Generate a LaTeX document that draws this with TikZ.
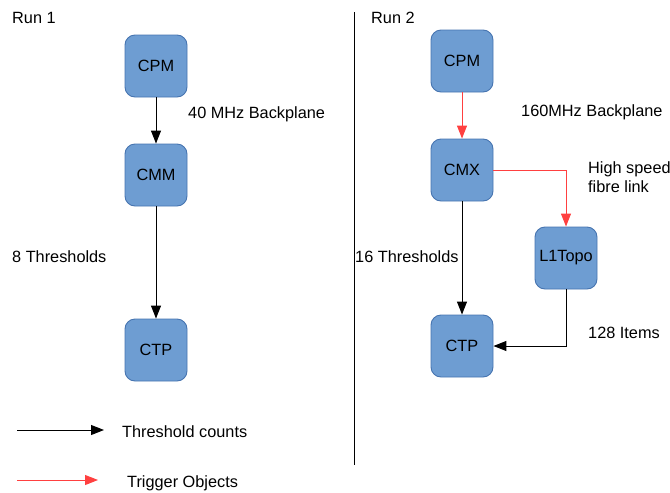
\documentclass[tikz,border=0pt]{standalone}
\usepackage{fontspec}
\setmainfont{Liberation Sans}
\usetikzlibrary{arrows.meta}
\definecolor{boxfill}{RGB}{110,157,210}
\definecolor{boxline}{RGB}{70,116,176}
\definecolor{trig}{RGB}{255,64,64}
\begin{document}
\begin{tikzpicture}[x=1pt,y=-1pt,
  blk/.style={draw=boxline,fill=boxfill,line width=0.9pt,rounded corners=10pt,minimum width=62pt,minimum height=62pt,inner sep=0pt,font=\fontsize{16.3}{18}\selectfont},
  lbl/.style={anchor=west,inner sep=0pt,align=left,font=\fontsize{16.3}{19}\selectfont},
  cnt/.style={draw=black,line width=1pt,-{Triangle[length=13pt,width=10pt]}},
  trg/.style={draw=trig,line width=1pt,-{Triangle[length=13pt,width=10pt]},color=trig}]
\useasboundingbox (0,0) rectangle (670,493);
% Run 1
\node[lbl] (run1) at (12,18) {Run 1};
\node[blk] (cpm1) at (156,66) {CPM};
\node[blk] (cmm) at (156,175) {CMM};
\node[blk] (ctp1) at (156,350) {CTP};
\draw[cnt] (cpm1) -- (cmm);
\draw[cnt] (cmm) -- (ctp1);
\node[lbl] (bp1) at (188,114) {40 MHz Backplane};
\node[lbl] (th1) at (12,257) {8 Thresholds};
% separator
\coordinate (sepT) at (354,12);
\coordinate (sepB) at (354,465);
\draw[line width=1pt] (sepT) -- (sepB);
% Run 2
\node[lbl] (run2) at (371,18) {Run 2};
\node[blk] (cpm2) at (462,61) {CPM};
\node[blk] (cmx) at (462,170) {CMX};
\node[blk] (topo) at (566,258) {L1Topo};
\node[blk] (ctp2) at (462,346) {CTP};
\draw[trg] (cpm2) -- (cmx);
\draw[trg] (cmx.east) -| (topo.north);
\draw[cnt] (cmx) -- (ctp2);
\draw[cnt] (topo.south) |- (ctp2.east);
\node[lbl] (bp2) at (521,112) {160MHz Backplane};
\node[lbl] (fib) at (588,177) {High speed\\fibre link};
\node[lbl] (th2) at (355,257) {16 Thresholds};
\node[lbl] (it) at (588,333) {128 Items};
% legend
\coordinate (l1a) at (17,430);
\coordinate (l1b) at (104,430);
\draw[cnt] (l1a) -- (l1b);
\node[lbl] (lg1) at (122,432) {Threshold counts};
\coordinate (l2a) at (17,480);
\coordinate (l2b) at (98,480);
\draw[trg] (l2a) -- (l2b);
\node[lbl] (lg2) at (127,483) {Trigger Objects};
\end{tikzpicture}
\end{document}
